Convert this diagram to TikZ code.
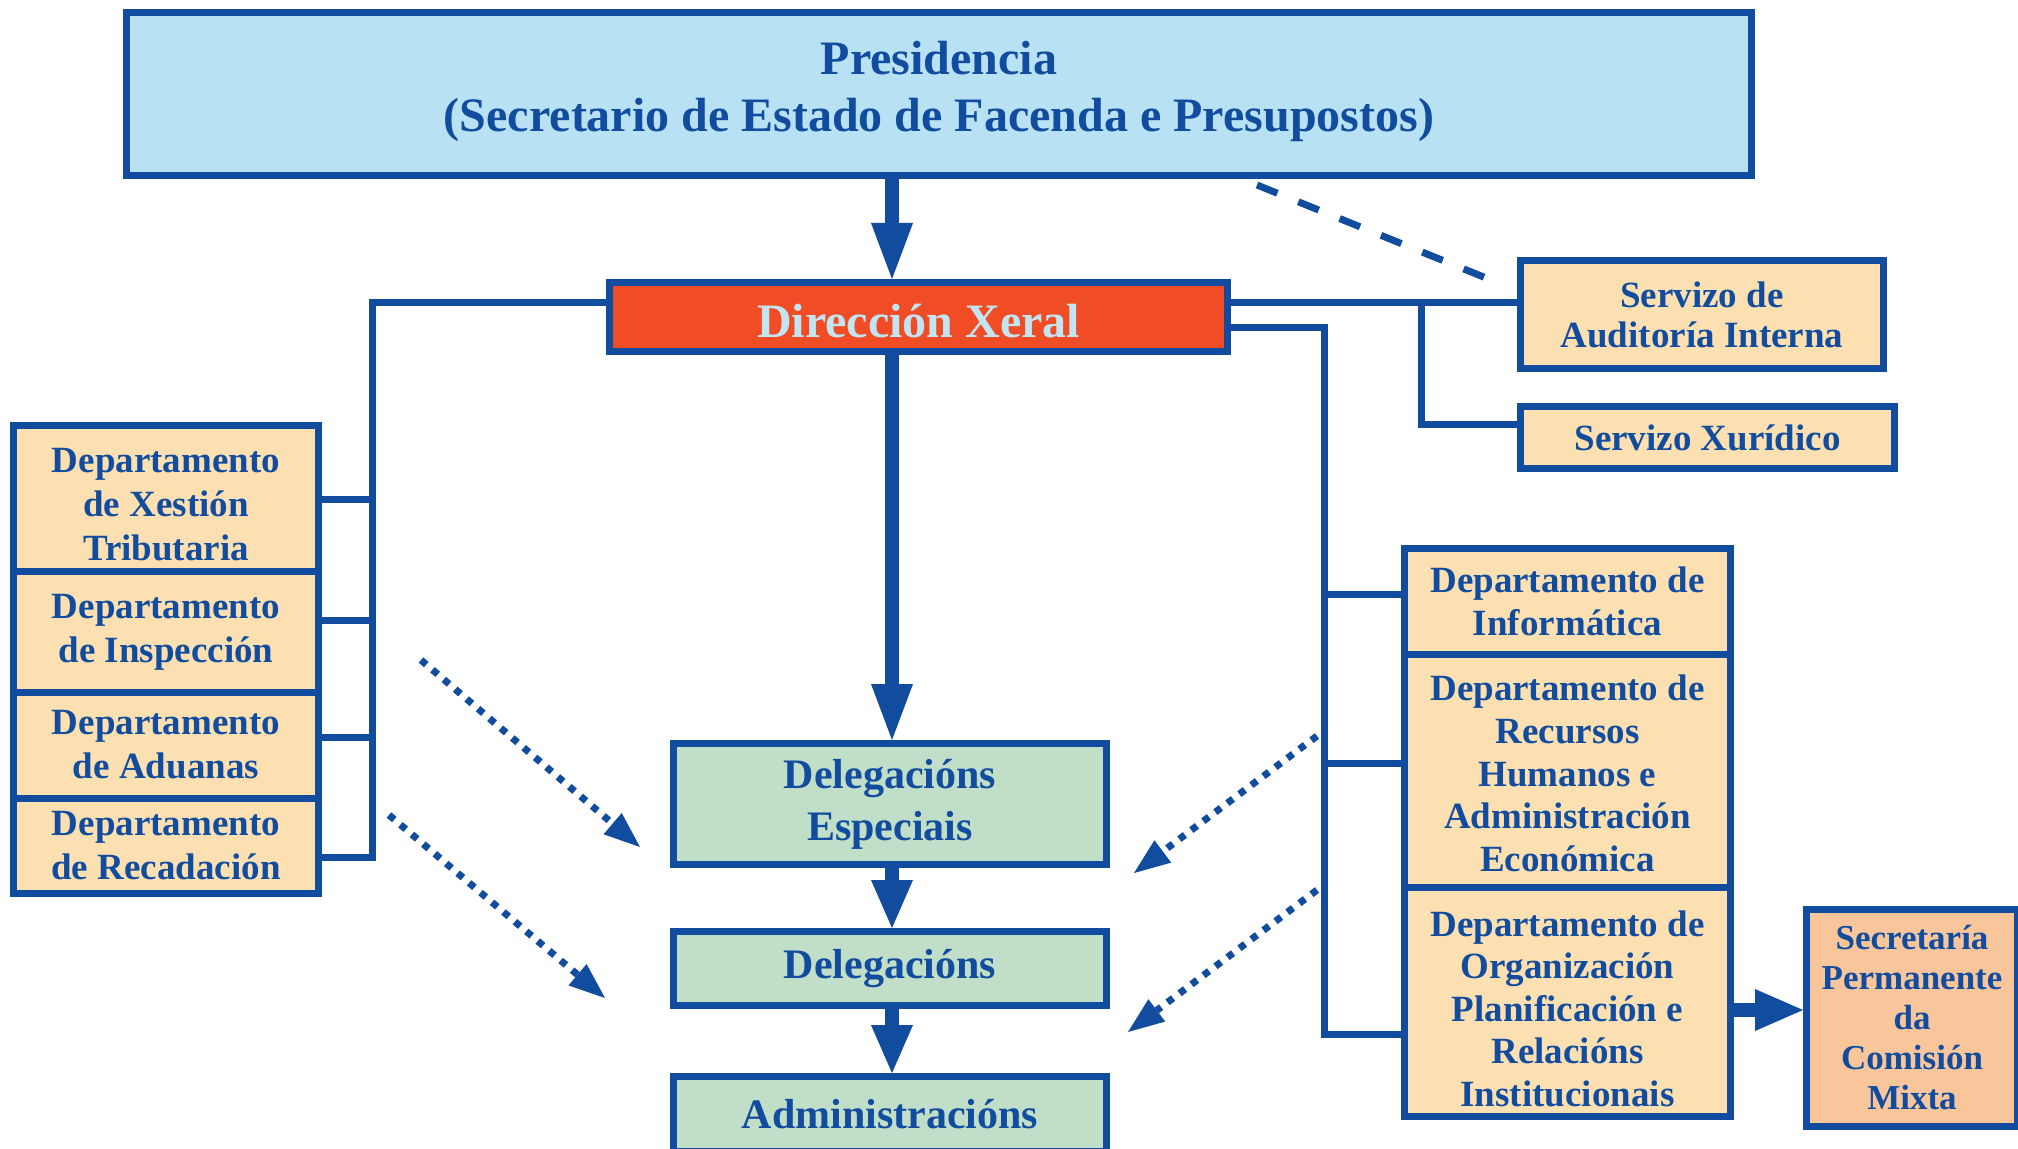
\documentclass[tikz,border=0pt]{standalone}
\usepackage{fontspec}
\setmainfont{Liberation Serif}
\usetikzlibrary{arrows.meta}
\definecolor{bl}{HTML}{124C9E}
\definecolor{lightblue}{HTML}{B8E2F3}
\definecolor{redor}{HTML}{F04C25}
\definecolor{peach}{HTML}{FDE0B1}
\definecolor{greenbox}{HTML}{C1DFC8}
\definecolor{salmon}{HTML}{F9C69C}
\definecolor{dirtext}{HTML}{C3E4F1}
\begin{document}
\begin{tikzpicture}[x=0.5pt,y=-0.5pt,
  box/.style={draw=bl, line width=3.5pt, text=bl, align=center, inner sep=0pt, anchor=center},
  txt/.style={text=bl, align=center, inner sep=0pt, anchor=center},
  deptfont/.style={font=\fontsize{18.5}{22}\selectfont\bfseries},
  deptrfont/.style={font=\fontsize{18.5}{21.3}\selectfont\bfseries},
  dept/.style={box, fill=peach, deptfont},
  deptr/.style={box, fill=peach, deptrfont},
  greenb/.style={box, fill=greenbox, font=\fontsize{21}{26}\selectfont\bfseries},
  conn/.style={draw=bl, line width=3.5pt},
  bigarrow/.style={draw=bl, line width=7pt, -{Triangle[length=28pt,width=21pt,line width=0pt]}},
  smallarrow/.style={draw=bl, line width=7pt, -{Triangle[length=24pt,width=21pt,line width=0pt]}},
  dotarrow/.style={draw=bl, line width=3.5pt, dash pattern=on 3.5pt off 4pt, -{Triangle[length=18pt,width=14pt,line width=0pt]}},
  dashline/.style={draw=bl, line width=3.5pt, dash pattern=on 11pt off 11.3pt}
]
\useasboundingbox (0,0) rectangle (2018,1149);
\fill[white] (0,0) rectangle (2018,1149);

% helper coordinates
\coordinate (ax) at (892,0);
\coordinate (lt) at (372,302.5);
\coordinate (lb1) at (372,500);
\coordinate (lb2) at (372,620);
\coordinate (lb3) at (372,737);
\coordinate (lb4) at (372,857);
\coordinate (at) at (1421,302.5);
\coordinate (xb) at (1421,425);
\coordinate (rt) at (1324,327.5);
\coordinate (rb1) at (1324,595);
\coordinate (rb2) at (1324,763.5);
\coordinate (rb3) at (1324,1034);
\coordinate (sy) at (1760,1010);
\coordinate (ds) at (1257,185);
\coordinate (de) at (1486,278);
\coordinate (d1s) at (421,660);
\coordinate (d1e) at (640,847);
\coordinate (d2s) at (389,815);
\coordinate (d2e) at (605,998);
\coordinate (d3s) at (1317,736);
\coordinate (d3e) at (1134,873);
\coordinate (d4s) at (1317,890);
\coordinate (d4e) at (1128,1032);

% boxes
\node[box, fill=lightblue, minimum width=812.5pt, minimum height=81.5pt] (pres) at (939,94) {};
\node[txt, font=\fontsize{24}{28.5}\selectfont\bfseries] (prestext) at ([yshift=1.3pt]pres.center)
  {Presidencia\\(Secretario de Estado de Facenda e Presupostos)};
\node[box, fill=redor, minimum width=309pt, minimum height=34.5pt] (dir) at (918.5,317) {};
\node[txt, text=dirtext, font=\fontsize{24}{28}\selectfont\bfseries] (dirtext) at ([yshift=-2pt]dir.center)
  {Dirección Xeral};
\node[dept, minimum width=181.5pt, minimum height=54pt, font=\fontsize{18.5}{20}\selectfont\bfseries] (audit) at (1702,314.5)
  {Servizo de\\Auditoría Interna};
\node[dept, minimum width=187pt, minimum height=31pt] (xur) at (1707.5,437.5) {Servizo Xurídico};

\node[dept, minimum width=152.5pt, minimum height=73.25pt] (xest) at (166,498.75) {};
\node[txt, deptfont] (xesttext) at ([yshift=-3pt]xest.center)
  {Departamento\\de Xestión\\Tributaria};
\node[dept, minimum width=152.5pt, minimum height=60pt] (insp) at (166,632)
  {Departamento\\de Inspección};
\node[dept, minimum width=152.5pt, minimum height=53pt] (adu) at (166,745)
  {Departamento\\de Aduanas};
\node[dept, minimum width=152.5pt, minimum height=47.75pt] (recad) at (166,845.75)
  {Departamento\\de Recadación};

\node[deptr, minimum width=163pt, minimum height=52.75pt] (inf) at (1567.5,601.25)
  {Departamento de\\Informática};
\node[deptr, minimum width=163pt, minimum height=116.5pt] (rec) at (1567.5,770.5) {};
\node[txt, deptrfont] (rectext) at ([yshift=-1.5pt]rec.center)
  {Departamento de\\Recursos\\Humanos e\\Administración\\Económica};
\node[deptr, minimum width=163pt, minimum height=114.75pt] (org) at (1567.5,1001.75) {};
\node[txt, deptrfont] (orgtext) at ([yshift=-3.5pt]org.center)
  {Departamento de\\Organización\\Planificación e\\Relacións\\Institucionais};

\node[box, fill=salmon, minimum width=105.5pt, minimum height=108.5pt,
      font=\fontsize{17.5}{20}\selectfont\bfseries] (sec) at (1912,1018)
  {Secretaría\\Permanente\\da\\Comisión\\Mixta};

\node[greenb, minimum width=216.5pt, minimum height=60.5pt] (dele) at (890,804)
  {Delegacións\\Especiais};
\node[greenb, minimum width=216.5pt, minimum height=37pt] (deleg) at (890,968.5)
  {Delegacións};
\node[greenb, minimum width=216.5pt, minimum height=37.5pt] (adm) at (890,1114)
  {Administracións};

% connectors
\draw[conn] (lt -| dir.west) -- (lt) -- (lb4) -- (lb4 -| recad.east);
\draw[conn] (lb1) -- (lb1 -| xest.east);
\draw[conn] (lb2) -- (lb2 -| insp.east);
\draw[conn] (lb3) -- (lb3 -| adu.east);

\draw[conn] (at -| dir.east) -- (at -| audit.west);
\draw[conn] (at) -- (xb) -- (xb -| xur.west);

\draw[conn] (rt -| dir.east) -- (rt) -- (rb3) -- (rb3 -| org.west);
\draw[conn] (rb1) -- (rb1 -| inf.west);
\draw[conn] (rb2) -- (rb2 -| rec.west);

% arrows
\draw[bigarrow] (ax |- pres.south) -- (ax |- dir.north);
\draw[bigarrow] (ax |- dir.south) -- (ax |- dele.north);
\draw[smallarrow] (ax |- dele.south) -- (ax |- deleg.north);
\draw[smallarrow] (ax |- deleg.south) -- (ax |- adm.north);
\draw[smallarrow] (sy -| org.east) -- (sy -| sec.west);

% dashed and dotted
\draw[dashline] (ds) -- (de);
\draw[dotarrow] (d1s) -- (d1e);
\draw[dotarrow] (d2s) -- (d2e);
\draw[dotarrow] (d3s) -- (d3e);
\draw[dotarrow] (d4s) -- (d4e);
\end{tikzpicture}
\end{document}
